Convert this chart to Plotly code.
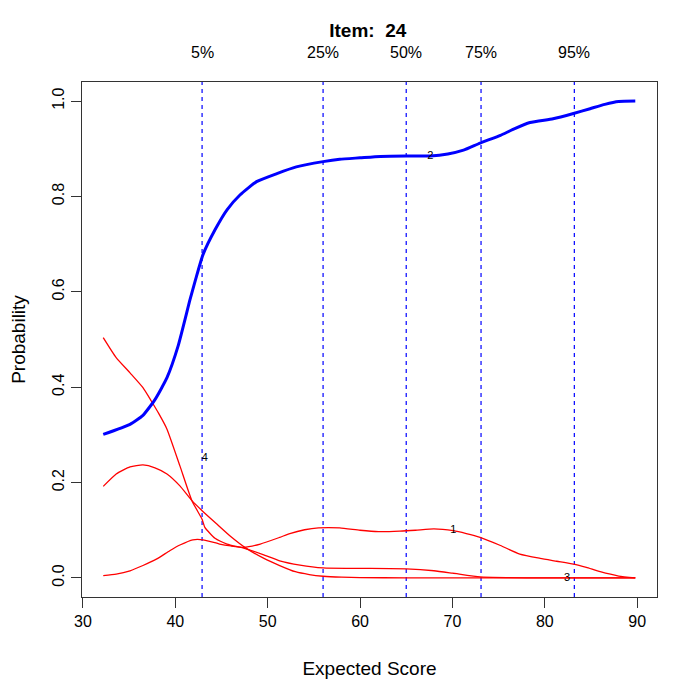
import plotly.graph_objects as go

# Category curves (expected score vs probability)
cat2_x = [32.2, 35.1, 36.5, 37.8, 39.1, 40.3, 41.6, 42.2, 43.0, 44.3, 45.6, 47.0, 48.8, 51.0,
          53.1, 56.0, 57.8, 60.0, 62.2, 65.0, 67.6, 69.5, 71.2, 73.0, 75.2, 76.5, 78.4, 80.9,
          83.1, 84.9, 86.5, 88.0, 89.8]
cat2_p = [0.301, 0.322, 0.341, 0.374, 0.420, 0.486, 0.584, 0.626, 0.678, 0.730, 0.772, 0.803,
          0.831, 0.848, 0.862, 0.873, 0.878, 0.881, 0.884, 0.885, 0.885, 0.889, 0.897, 0.912,
          0.928, 0.940, 0.955, 0.963, 0.974, 0.984, 0.993, 0.999, 1.0]

cat4_x = [32.2, 33.6, 35.1, 36.5, 37.4, 38.2, 39.1, 40.5, 41.8, 42.9, 43.2, 44.3, 45.6, 47.5,
          49.5, 51.3, 53.5, 56.0, 60.0, 65.0, 68.0, 70.0, 73.0, 76.0, 80.0, 85.0, 89.8]
cat4_p = [0.504, 0.462, 0.430, 0.399, 0.371, 0.345, 0.312, 0.235, 0.162, 0.123, 0.106, 0.083,
          0.071, 0.062, 0.049, 0.036, 0.027, 0.021, 0.020, 0.019, 0.015, 0.010, 0.002, 0.0005,
          0.0, 0.0, 0.0]

cat3_x = [32.2, 33.6, 35.1, 36.5, 37.8, 39.1, 40.5, 41.8, 42.9, 44.5, 46.0, 47.7, 49.5, 51.3,
          53.0, 54.5, 56.0, 58.0, 60.0, 65.0, 70.0, 80.0, 89.8]
cat3_p = [0.192, 0.218, 0.233, 0.237, 0.231, 0.218, 0.193, 0.162, 0.141, 0.113, 0.087, 0.062,
          0.042, 0.026, 0.013, 0.007, 0.0035, 0.0015, 0.0007, 0.0002, 0.0, 0.0, 0.0]

cat1_x = [32.2, 33.6, 35.1, 36.5, 38.0, 39.4, 40.5, 41.9, 43.0, 44.8, 46.0, 47.4, 49.2, 51.3,
          52.4, 54.0, 55.5, 57.8, 60.0, 62.0, 64.3, 66.0, 68.0, 70.1, 71.5, 73.0, 75.2, 77.3,
          79.5, 81.3, 83.1, 84.5, 86.0, 88.0, 89.8]
cat1_p = [0.005, 0.008, 0.015, 0.026, 0.040, 0.057, 0.069, 0.080, 0.080, 0.071, 0.067, 0.064,
          0.071, 0.085, 0.093, 0.101, 0.105, 0.105, 0.100, 0.097, 0.098, 0.100, 0.103, 0.099,
          0.093, 0.085, 0.068, 0.050, 0.041, 0.035, 0.029, 0.022, 0.013, 0.004, 0.0]

# curve labels
label_text = ["2", "4", "1", "3"]
label_x = [67.6, 43.2, 70.1, 82.4]
label_p = [0.885, 0.25, 0.10, 0.0]

# score quantiles
quant_names = ["5%", "25%", "50%", "75%", "95%"]
quant_x = [42.9, 56.0, 65.0, 73.1, 83.2]

x_ticks = [30, 40, 50, 60, 70, 80, 90]
y_ticks = [0.0, 0.2, 0.4, 0.6, 0.8, 1.0]

FONT = "Liberation Sans, Arial, sans-serif"

fig = go.Figure()

for qx in quant_x:
    fig.add_shape(type="line", x0=qx, x1=qx, y0=0, y1=1, xref="x", yref="paper",
                  line=dict(color="blue", width=1.2, dash="4px,4px"), layer="below")

for xs, ps in [(cat4_x, cat4_p), (cat3_x, cat3_p), (cat1_x, cat1_p)]:
    fig.add_trace(go.Scatter(x=xs, y=ps, mode="lines",
                             line=dict(color="red", width=1.3, shape="spline", smoothing=0.5),
                             showlegend=False, hoverinfo="skip"))

fig.add_trace(go.Scatter(x=cat2_x, y=cat2_p, mode="lines",
                         line=dict(color="blue", width=3, shape="spline", smoothing=0.5),
                         showlegend=False, hoverinfo="skip"))

fig.add_trace(go.Scatter(x=label_x, y=label_p, mode="text", text=label_text,
                         textfont=dict(family=FONT, size=11, color="black"),
                         showlegend=False, hoverinfo="skip"))

for name, qx in zip(quant_names, quant_x):
    fig.add_annotation(x=qx, y=1.058, xref="x", yref="paper", text=name, showarrow=False,
                       font=dict(family=FONT, size=16, color="black"), yanchor="middle")

# page body adds an 8px offset, margins compensate for it
fig.update_layout(
    width=700, height=700,
    margin=dict(l=74, r=51, t=74, b=111),
    plot_bgcolor="white", paper_bgcolor="white",
    font=dict(family=FONT, size=16, color="black"),
    title=dict(text="<b>Item:  24</b>", x=0.514, xanchor="center", y=0.9686, yanchor="middle",
               font=dict(family=FONT, size=19, color="black")),
)

fig.update_xaxes(range=[29.9, 92.15], tickvals=x_ticks, ticks="outside", ticklen=10,
                 tickcolor="#333333", showline=True, linecolor="#333333", linewidth=1.4,
                 mirror=True, showgrid=False, zeroline=False, automargin=False,
                 title=dict(text="Expected Score", standoff=32),
                 tickfont=dict(size=16))
fig.update_yaxes(range=[-0.04, 1.04], tickvals=y_ticks, tickformat=".1f",
                 ticks="outside", ticklen=10, tickcolor="#333333", tickangle=-90,
                 showline=True, linecolor="#333333", linewidth=1.4, mirror=True,
                 showgrid=False, zeroline=False, automargin=False,
                 title=dict(text="Probability", standoff=24),
                 tickfont=dict(size=16))

fig.write_html("out.html")
